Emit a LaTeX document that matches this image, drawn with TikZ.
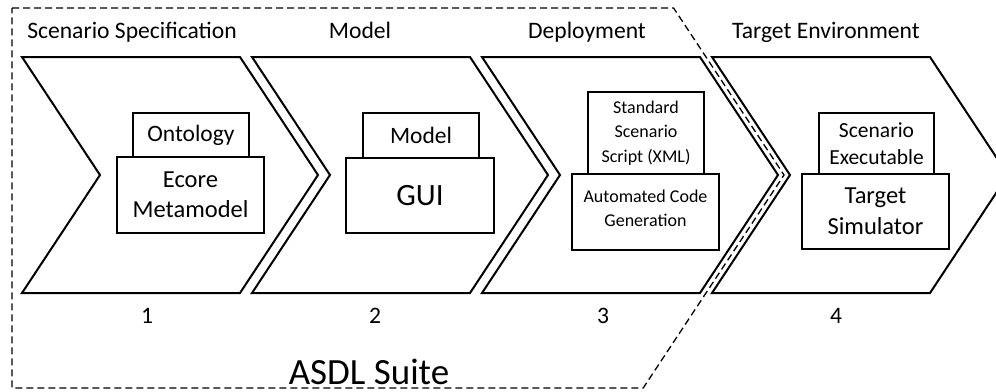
\documentclass[tikz,border=0pt]{standalone}
\usepackage{fontspec}
\setmainfont{Carlito}
\begin{document}
\begin{tikzpicture}[x=1pt,y=-1pt,
  chev/.style={draw, line width=2pt, line join=miter},
  box/.style={draw, line width=1.7pt, fill=white, align=center, inner sep=0pt},
  head/.style={anchor=base, inner sep=0pt, font=\fontsize{23.6}{28}\selectfont},
  num/.style={anchor=base, inner sep=0pt, font=\fontsize{23.6}{28}\selectfont},
  suite/.style={draw, line width=1.3pt, dash pattern=on 7pt off 4pt, line join=miter},
  tx/.style 2 args={font=\fontsize{#1}{#2}\selectfont}
]
\useasboundingbox (0,0) rectangle (996,391);

\begin{scope}
\clip (0,0) rectangle (996,391);
% the four process chevrons
\foreach \i/\xo in {1/22, 2/252, 3/482, 4/712} {
  \draw[chev] (\xo,57) coordinate (c\i tl) -- ++(218,0) -- ++(78,118) coordinate (c\i tip)
    -- ++(-78,118) -- (\xo,293) -- ++(78,-118) coordinate (c\i notch) -- cycle;
}
% boundary of the ASDL Suite
\coordinate (s1) at (12,8);
\coordinate (s2) at (673.6,8);
\coordinate (s3) at (784,175);
\coordinate (s4) at (643.2,388);
\coordinate (s5) at (12,388);
\draw[suite] (s1) -- (s2) -- (s3) -- (s4) -- (s5) -- cycle;
\end{scope}

% stage headings
\node[head] (h1) at (132,38) {Scenario Specification};
\node[head] (h2) at (360,38) {Model};
\node[head] (h3) at (587,38) {Deployment};
\node[head] (h4) at (826,38) {Target Environment};

% stage 1
\node[box, minimum width=116pt, minimum height=44pt, tx={23.5}{27}] (onto) at (191,135) {Ontology};
\node[box, minimum width=147pt, minimum height=76pt, tx={24.5}{30}] (ecore) at (190.5,195) {Ecore\\Metamodel};

% stage 2
\node[box, minimum width=116pt, minimum height=45pt, tx={23.5}{27}] (model) at (421,135.5) {Model};
\node[box, minimum width=148pt, minimum height=75pt, tx={31}{35}] (gui) at (420,195.5) {GUI};

% stage 3
\node[box, minimum width=116pt, minimum height=82pt, tx={18}{24.5}] (sss) at (646,133) {Standard\\Scenario\\Script (XML)};
\node[box, minimum width=147pt, minimum height=76pt, tx={18}{24}, text depth=8pt] (acg) at (645.5,212) {Automated Code\\Generation};

% stage 4
\node[box, minimum width=115pt, minimum height=61pt, tx={21.5}{27}] (exe) at (876.5,143.5) {Scenario\\Executable};
\node[box, minimum width=147pt, minimum height=75pt, tx={24.5}{31}] (sim) at (875.5,211.5) {Target\\Simulator};

% stage numbers
\node[num] (n1) at (147,323) {1};
\node[num] (n2) at (375,323) {2};
\node[num] (n3) at (603,323) {3};
\node[num] (n4) at (836,323) {4};

\node[anchor=base, inner sep=0pt, font=\fontsize{37}{42}\selectfont] (asdl) at (369,384) {ASDL Suite};
\end{tikzpicture}
\end{document}
